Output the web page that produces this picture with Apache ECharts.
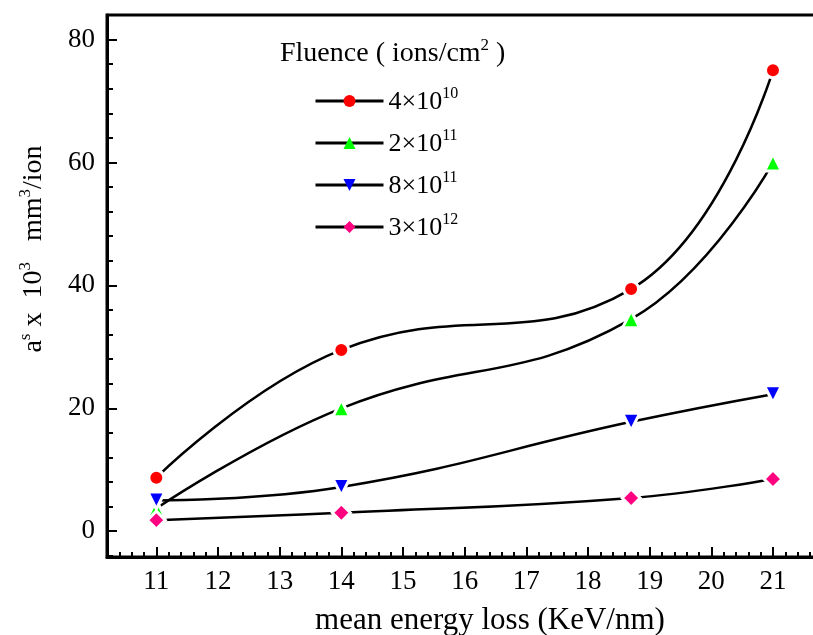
<!DOCTYPE html>
<html>
<head>
<meta charset="utf-8">
<script src="https://cdn.jsdelivr.net/npm/echarts@6/dist/echarts.min.js"></script>
<style>
  html, body { margin: 0; padding: 0; background: #fff; }
  #chart { width: 813px; height: 635px; }
</style>
</head>
<body>
<div id="chart"></div>
<script>
// Mean electronic energy loss (KeV/nm) for each ion beam
const energyLoss = [11, 14, 18.7, 21];

// a^s x 10^3 (mm^3/ion) for each fluence
const flu4e10 = [8.7, 29.5, 39.4, 75.0];
const flu2e11 = [3.7, 20.0, 34.5, 60.0];
const flu8e11 = [5.0, 7.2, 17.8, 22.3];
const flu3e12 = [1.8, 3.0, 5.4, 8.5];

// Legend entries (mantissa^exponent)
const fluenceNames = ['4×10^10', '2×10^11', '8×10^11', '3×10^12'];

// Tick labels
const xTickLabels = [11, 12, 13, 14, 15, 16, 17, 18, 19, 20, 21];
const yTickLabels = [0, 20, 40, 60, 80];

// Axis ranges and minor tick steps
const X_MIN = 10.2, X_MAX = 21.8, X_MINOR = 0.2;
const Y_MIN = -4.2, Y_MAX = 84, Y_MINOR = 4;

function minorTicks(from, to, step) {
  const out = [];
  const n = Math.floor((to - from) / step + 1e-9);
  for (let i = 0; i <= n; i++) out.push(Math.round((from + i * step) * 1000) / 1000);
  return out;
}
const xMinorTicks = minorTicks(10.4, X_MAX, X_MINOR);
const yMinorTicks = minorTicks(-4, Y_MAX, Y_MINOR);

const FONT = 'Liberation Serif';
const INK = '#000';

const seriesDefs = [
  { name: fluenceNames[0], values: flu4e10, symbol: 'circle', size: 15, rotate: 0, color: '#ff0000' },
  { name: fluenceNames[1], values: flu2e11, symbol: 'triangle', size: 17, rotate: 0, color: '#00ff00' },
  { name: fluenceNames[2], values: flu8e11, symbol: 'triangle', size: 17, rotate: 180, color: '#0000ff' },
  { name: fluenceNames[3], values: flu3e12, symbol: 'diamond', size: 18, rotate: 0, color: '#ff0080' }
];

function supStyles(base, sup, raise) {
  return {
    b: { fontFamily: FONT, fontSize: base, color: INK, lineHeight: base + 2, verticalAlign: 'bottom' },
    sup: { fontFamily: FONT, fontSize: sup, color: INK, lineHeight: sup, padding: [0, 0, raise, 0], verticalAlign: 'bottom' }
  };
}
const legendRich = supStyles(26, 16, 13);

function legendText(name) {
  const parts = name.split('^');
  return '{b|' + parts[0] + '}{sup|' + parts[1] + '}';
}

const chart = echarts.init(document.getElementById('chart'), null, { renderer: 'canvas' });

const gridBox = { left: 107, top: 15, width: 715.3, height: 542 };

const option = {
  backgroundColor: '#fff',
  animation: false,
  grid: Object.assign({
    outerBoundsMode: 'none', containLabel: false,
    show: true, borderColor: INK, borderWidth: 3, backgroundColor: 'transparent'
  }, gridBox),
  xAxis: [
    {
      type: 'value', min: X_MIN, max: X_MAX, position: 'bottom',
      axisLine: { show: true, onZero: false, lineStyle: { color: INK, width: 3 } },
      axisTick: { show: true, inside: true, length: 10, customValues: xTickLabels, lineStyle: { color: INK, width: 2 } },
      axisLabel: {
        show: true, margin: 11, color: INK, fontFamily: FONT, fontSize: 27,
        customValues: xTickLabels
      },
      splitLine: { show: false }
    },
    {
      type: 'value', min: X_MIN, max: X_MAX, position: 'bottom',
      axisLine: { show: false, onZero: false },
      axisTick: { show: true, inside: true, length: 5, customValues: xMinorTicks, lineStyle: { color: INK, width: 2 } },
      axisLabel: { show: false },
      splitLine: { show: false }
    }
  ],
  yAxis: [
    {
      type: 'value', min: Y_MIN, max: Y_MAX, position: 'left',
      axisLine: { show: true, onZero: false, lineStyle: { color: INK, width: 3 } },
      axisTick: { show: true, inside: true, length: 10, customValues: yTickLabels, lineStyle: { color: INK, width: 2 } },
      axisLabel: {
        show: true, margin: 12, color: INK, fontFamily: FONT, fontSize: 27,
        customValues: yTickLabels
      },
      splitLine: { show: false }
    },
    {
      type: 'value', min: Y_MIN, max: Y_MAX, position: 'left',
      axisLine: { show: false, onZero: false },
      axisTick: { show: true, inside: true, length: 6, customValues: yMinorTicks, lineStyle: { color: INK, width: 2 } },
      axisLabel: { show: false },
      splitLine: { show: false }
    }
  ],
  legend: {
    orient: 'vertical',
    left: 314, top: 86,
    padding: 0,
    itemWidth: 68, itemHeight: 15, itemGap: 13,
    itemStyle: { borderWidth: 0 },
    lineStyle: { width: 3, color: INK },
    data: fluenceNames,
    formatter: legendText,
    textStyle: { fontFamily: FONT, fontSize: 26, color: INK, rich: legendRich }
  },
  graphic: [
    {
      type: 'text', left: 280, top: 37,
      style: {
        text: '{b|Fluence ( ions/cm}{sup|2}{b| )}',
        rich: supStyles(28, 17, 14)
      }
    },
    {
      type: 'text', x: 490, y: 621,
      style: {
        text: 'mean energy loss (KeV/nm)', fill: INK,
        font: '31px "' + FONT + '"', align: 'center', verticalAlign: 'middle'
      }
    },
    {
      type: 'text', x: 33, y: 249, rotation: Math.PI / 2,
      style: {
        text: '{b|a}{sup|s}{b| x  10}{sup|3}{b|   mm}{sup|3}{b|/ion}',
        align: 'center', verticalAlign: 'middle',
        rich: supStyles(28, 17, 14)
      }
    }
  ],
  series: seriesDefs.map(d => ({
    name: d.name,
    type: 'line',
    xAxisIndex: 0, yAxisIndex: 0,
    smooth: 0.45,
    data: energyLoss.map((x, i) => [x, d.values[i]]),
    symbol: d.symbol,
    symbolSize: d.size,
    symbolRotate: d.rotate,
    showAllSymbol: true,
    lineStyle: { color: INK, width: 2.5 },
    itemStyle: { color: d.color, borderColor: '#fff', borderWidth: 3 },
    emphasis: { disabled: true },
    z: 3
  }))
};

chart.setOption(option);
</script>
</body>
</html>
